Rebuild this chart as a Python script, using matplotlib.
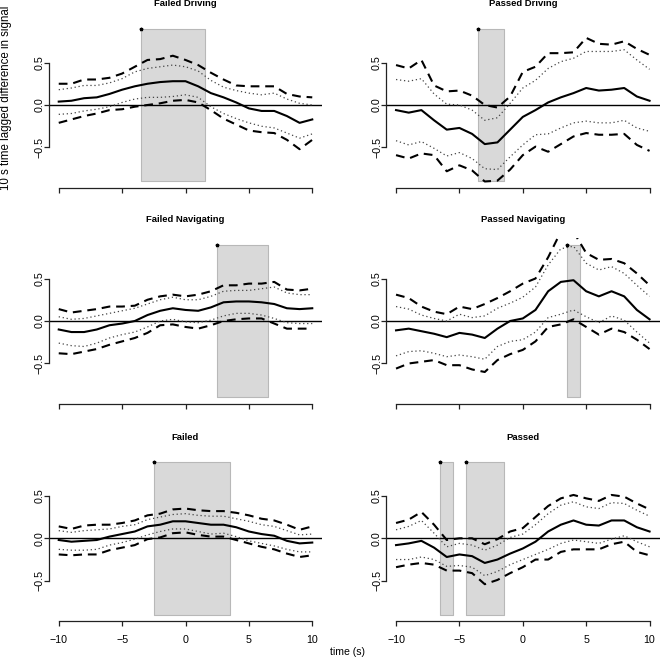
import numpy as np
import matplotlib
matplotlib.use('Agg')
import matplotlib.pyplot as plt

plt.rcParams['font.family'] = ['Liberation Sans', 'DejaVu Sans']

t = list(range(-10, 11))   # lag time (s)

# Failed Driving
fd_mean = [0.04, 0.05, 0.08, 0.09, 0.13, 0.18, 0.22, 0.25, 0.27, 0.28, 0.28, 0.22, 0.14, 0.09, 0.03, -0.04, -0.07, -0.07, -0.13, -0.21, -0.17]
fd_hi95 = [0.25, 0.25, 0.30, 0.30, 0.32, 0.37, 0.45, 0.53, 0.54, 0.58, 0.53, 0.47, 0.38, 0.30, 0.23, 0.22, 0.22, 0.22, 0.13, 0.10, 0.09]
fd_hi90 = [0.18, 0.20, 0.23, 0.23, 0.26, 0.31, 0.39, 0.43, 0.45, 0.47, 0.45, 0.40, 0.29, 0.21, 0.17, 0.14, 0.12, 0.14, 0.07, 0.02, 0.00]
fd_lo90 = [-0.11, -0.10, -0.07, -0.05, -0.02, 0.03, 0.07, 0.09, 0.09, 0.10, 0.12, 0.09, -0.02, -0.10, -0.16, -0.21, -0.25, -0.27, -0.33, -0.39, -0.34]
fd_lo95 = [-0.21, -0.17, -0.13, -0.10, -0.06, -0.05, -0.02, 0.00, 0.02, 0.05, 0.06, 0.03, -0.06, -0.16, -0.23, -0.30, -0.32, -0.33, -0.41, -0.52, -0.41]
fd_sig = [(-3.5, 1.5)]

# Passed Driving
pd_mean = [-0.06, -0.09, -0.06, -0.18, -0.29, -0.27, -0.34, -0.46, -0.44, -0.29, -0.14, -0.06, 0.03, 0.09, 0.14, 0.20, 0.17, 0.18, 0.20, 0.10, 0.05]
pd_hi95 = [0.47, 0.43, 0.53, 0.23, 0.16, 0.17, 0.11, 0.00, -0.03, 0.10, 0.39, 0.45, 0.61, 0.61, 0.62, 0.79, 0.72, 0.71, 0.75, 0.66, 0.59]
pd_hi90 = [0.30, 0.28, 0.31, 0.13, 0.01, 0.00, -0.06, -0.18, -0.15, 0.02, 0.20, 0.29, 0.43, 0.51, 0.55, 0.63, 0.63, 0.63, 0.65, 0.53, 0.42]
pd_lo90 = [-0.42, -0.47, -0.43, -0.51, -0.60, -0.56, -0.63, -0.75, -0.76, -0.61, -0.47, -0.35, -0.34, -0.27, -0.21, -0.19, -0.21, -0.21, -0.18, -0.27, -0.31]
pd_lo95 = [-0.59, -0.63, -0.57, -0.59, -0.78, -0.71, -0.77, -0.90, -0.89, -0.76, -0.59, -0.49, -0.55, -0.46, -0.37, -0.33, -0.35, -0.35, -0.34, -0.47, -0.54]
pd_sig = [(-3.5, -1.5)]

# Failed Navigating
fn_mean = [-0.10, -0.13, -0.13, -0.10, -0.05, -0.03, 0.00, 0.07, 0.12, 0.15, 0.13, 0.12, 0.16, 0.22, 0.23, 0.23, 0.22, 0.20, 0.15, 0.14, 0.15]
fn_hi95 = [0.14, 0.10, 0.12, 0.14, 0.17, 0.17, 0.18, 0.25, 0.29, 0.31, 0.29, 0.31, 0.35, 0.42, 0.42, 0.44, 0.44, 0.46, 0.37, 0.36, 0.38]
fn_hi90 = [0.05, 0.02, 0.03, 0.06, 0.09, 0.12, 0.15, 0.20, 0.25, 0.28, 0.25, 0.25, 0.29, 0.35, 0.36, 0.36, 0.38, 0.40, 0.33, 0.31, 0.31]
fn_lo90 = [-0.26, -0.29, -0.30, -0.26, -0.20, -0.16, -0.13, -0.07, 0.00, 0.02, -0.01, -0.02, 0.01, 0.06, 0.09, 0.09, 0.07, 0.03, -0.02, -0.03, -0.03]
fn_lo95 = [-0.38, -0.39, -0.36, -0.33, -0.28, -0.24, -0.20, -0.14, -0.05, -0.04, -0.07, -0.09, -0.05, 0.00, 0.02, 0.03, 0.03, -0.03, -0.09, -0.09, -0.09]
fn_sig = [(2.5, 6.5)]

# Passed Navigating
pn_mean = [-0.11, -0.09, -0.12, -0.15, -0.19, -0.14, -0.16, -0.20, -0.09, 0.00, 0.03, 0.13, 0.35, 0.46, 0.48, 0.35, 0.29, 0.35, 0.29, 0.13, 0.02]
pn_hi95 = [0.31, 0.27, 0.17, 0.11, 0.08, 0.17, 0.14, 0.20, 0.27, 0.35, 0.44, 0.50, 0.75, 1.05, 1.05, 0.80, 0.72, 0.73, 0.68, 0.56, 0.42]
pn_hi90 = [0.17, 0.14, 0.07, 0.03, 0.00, 0.08, 0.04, 0.06, 0.15, 0.21, 0.28, 0.40, 0.66, 0.85, 0.88, 0.68, 0.60, 0.64, 0.56, 0.42, 0.29]
pn_lo90 = [-0.41, -0.36, -0.35, -0.38, -0.42, -0.40, -0.42, -0.45, -0.30, -0.24, -0.22, -0.13, 0.04, 0.08, 0.13, 0.05, -0.02, 0.06, 0.01, -0.13, -0.26]
pn_lo95 = [-0.56, -0.50, -0.48, -0.46, -0.52, -0.52, -0.57, -0.60, -0.46, -0.39, -0.34, -0.24, -0.07, -0.04, 0.02, -0.07, -0.16, -0.09, -0.13, -0.22, -0.33]
pn_sig = [(3.5, 4.5)]

# Failed
fa_mean = [-0.02, -0.04, -0.03, -0.02, 0.02, 0.05, 0.08, 0.14, 0.16, 0.20, 0.20, 0.18, 0.16, 0.16, 0.13, 0.08, 0.05, 0.03, -0.03, -0.06, -0.05]
fa_hi95 = [0.14, 0.11, 0.15, 0.16, 0.16, 0.18, 0.21, 0.27, 0.29, 0.34, 0.35, 0.33, 0.32, 0.32, 0.30, 0.27, 0.23, 0.21, 0.16, 0.10, 0.14]
fa_hi90 = [0.09, 0.07, 0.09, 0.10, 0.11, 0.14, 0.16, 0.22, 0.25, 0.28, 0.29, 0.27, 0.26, 0.26, 0.23, 0.20, 0.16, 0.14, 0.09, 0.04, 0.05]
fa_lo90 = [-0.13, -0.14, -0.14, -0.13, -0.08, -0.05, -0.01, 0.04, 0.08, 0.11, 0.11, 0.08, 0.05, 0.06, 0.02, -0.03, -0.06, -0.09, -0.13, -0.16, -0.16]
fa_lo95 = [-0.19, -0.20, -0.19, -0.19, -0.14, -0.11, -0.08, -0.01, 0.01, 0.06, 0.07, 0.04, 0.02, 0.02, -0.02, -0.06, -0.10, -0.13, -0.18, -0.22, -0.20]
fa_sig = [(-2.5, 3.5)]

# Passed
pa_mean = [-0.08, -0.06, -0.03, -0.11, -0.22, -0.19, -0.21, -0.29, -0.25, -0.18, -0.12, -0.04, 0.08, 0.16, 0.21, 0.16, 0.15, 0.21, 0.21, 0.13, 0.08]
pa_hi95 = [0.18, 0.22, 0.31, 0.16, -0.02, 0.00, 0.00, -0.07, -0.01, 0.08, 0.12, 0.25, 0.38, 0.47, 0.51, 0.47, 0.44, 0.51, 0.49, 0.41, 0.34]
pa_hi90 = [0.10, 0.14, 0.21, 0.06, -0.10, -0.06, -0.08, -0.14, -0.08, 0.01, 0.05, 0.16, 0.29, 0.39, 0.43, 0.37, 0.35, 0.42, 0.41, 0.33, 0.26]
pa_lo90 = [-0.25, -0.25, -0.22, -0.25, -0.33, -0.32, -0.34, -0.44, -0.39, -0.31, -0.25, -0.19, -0.13, -0.06, -0.02, -0.04, -0.06, -0.01, 0.03, -0.04, -0.10]
pa_lo95 = [-0.34, -0.31, -0.29, -0.31, -0.38, -0.38, -0.41, -0.54, -0.49, -0.41, -0.34, -0.25, -0.25, -0.16, -0.13, -0.13, -0.13, -0.07, -0.04, -0.16, -0.20]
pa_sig = [(-6.5, -5.5), (-4.5, -1.5)]

titles = ['Failed Driving', 'Passed Driving', 'Failed Navigating', 'Passed Navigating', 'Failed', 'Passed']
panels = [(fd_mean, fd_lo90, fd_hi90, fd_lo95, fd_hi95, fd_sig),
          (pd_mean, pd_lo90, pd_hi90, pd_lo95, pd_hi95, pd_sig),
          (fn_mean, fn_lo90, fn_hi90, fn_lo95, fn_hi95, fn_sig),
          (pn_mean, pn_lo90, pn_hi90, pn_lo95, pn_hi95, pn_sig),
          (fa_mean, fa_lo90, fa_hi90, fa_lo95, fa_hi95, fa_sig),
          (pa_mean, pa_lo90, pa_hi90, pa_lo95, pa_hi95, pa_sig)]

W, H = 660, 659
fig = plt.figure(figsize=(W/100., H/100.), dpi=100)
lefts = [48.6, 385.9]
bottoms = [187.6, 403.6, 620.9]   # pixel position of bottom edge of each row
pw, ph = 273.8, 165.2

for k in range(6):
    row, col = k // 2, k % 2
    ax = fig.add_axes([lefts[col]/W, 1 - bottoms[row]/H, pw/W, ph/H])
    mean, lo90, hi90, lo95, hi95, sig = panels[k]
    for a, b in sig:
        ax.fill_between([a, b], -0.9, 0.9, facecolor='#d9d9d9', edgecolor='#b8b8b8', lw=0.8, zorder=1)
        ax.plot(a, 0.9, marker='*', ms=2.5, color='black', zorder=5)
    ax.axhline(0, color='black', lw=1.0, zorder=2)
    ax.plot(t, hi95, color='black', lw=1.5, ls=(0, (4.2, 2.8)), zorder=3)
    ax.plot(t, lo95, color='black', lw=1.5, ls=(0, (4.2, 2.8)), zorder=3)
    ax.plot(t, hi90, color='#444444', lw=0.9, ls=(0, (1, 2.2)), zorder=3)
    ax.plot(t, lo90, color='#444444', lw=0.9, ls=(0, (1, 2.2)), zorder=3)
    ax.plot(t, mean, color='black', lw=1.5, zorder=4)
    ax.set_xlim(-10.8, 10.8)
    ax.set_ylim(-0.972, 0.972)
    ax.spines['top'].set_visible(False)
    ax.spines['right'].set_visible(False)
    ax.spines['left'].set_bounds(-0.5, 0.5)
    ax.spines['bottom'].set_bounds(-10, 10)
    for s in ['left', 'bottom']:
        ax.spines[s].set_linewidth(0.9)
        ax.spines[s].set_color('#222222')
    ax.set_xticks([-10, -5, 0, 5, 10])
    ax.set_yticks([-0.5, 0.0, 0.5])
    ax.set_yticklabels(['\u22120.5', '0.0', '0.5'], rotation=90, va='center')
    if row == 2:
        ax.set_xticklabels(['\u221210', '\u22125', '0', '5', '10'])
    else:
        ax.set_xticklabels([])
    ax.tick_params(axis='x', length=3.6, width=0.9, pad=6.5, labelsize=7.7, color='#222222')
    ax.tick_params(axis='y', length=3.6, width=0.9, pad=-0.8, labelsize=7.7, color='#222222')
    ax.text(0.5, 1 + 18.5/ph, titles[k], transform=ax.transAxes, ha='center', va='center',
            fontsize=6.8, fontweight='bold')

fig.text(6.5/W, 1 - 97.5/H, '10 s time lagged difference in signal', rotation=90,
         ha='center', va='center', fontsize=8.3)
fig.text(348/W, 1 - 652/H, 'time (s)', ha='center', va='center', fontsize=7.6)

fig.savefig('out.png', dpi=100)
